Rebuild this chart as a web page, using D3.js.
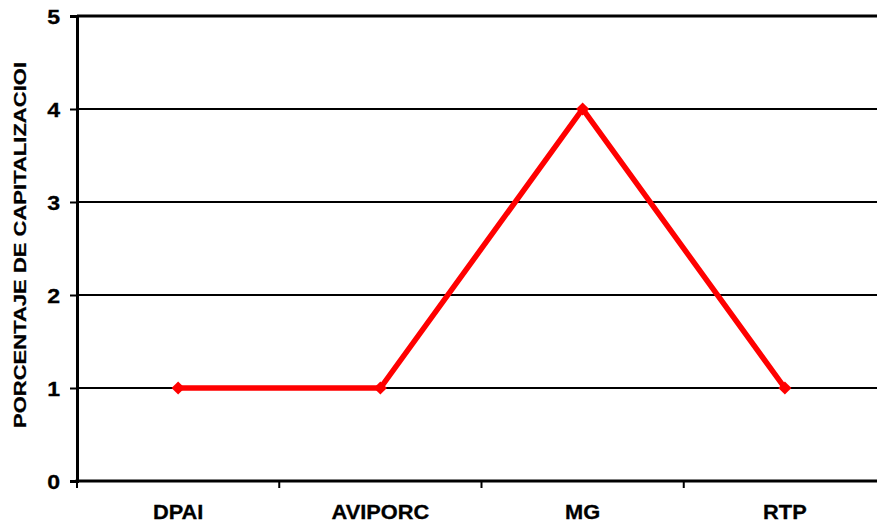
<!DOCTYPE html>
<html>
<head>
<meta charset="utf-8">
<script src="https://cdn.jsdelivr.net/npm/d3@7"></script>
<style>
  html, body { margin: 0; padding: 0; background: #fff; }
  svg { display: block; font-family: "Liberation Sans", Arial, sans-serif; font-weight: bold; }
</style>
</head>
<body>
<svg id="chart" width="877" height="523"></svg>
<script>
const categories = ["DPAI", "AVIPORC", "MG", "RTP"];
const values = [1, 1, 4, 1];
const yTicks = [0, 1, 2, 3, 4, 5];
const yTitle = "PORCENTAJE DE CAPITALIZACIOI";

const svg = d3.select("#chart");
const margin = { left: 77, top: 16, right: 886, bottom: 481 };
const font = "Liberation Sans, Arial, sans-serif";

const x = d3.scaleBand().domain(categories).range([margin.left, margin.right]);
const y = d3.scaleLinear().domain([0, 5]).range([margin.bottom, margin.top]);

// horizontal gridlines
svg.append("g").selectAll("line").data(yTicks.filter(d => d > 0)).join("line")
  .attr("x1", margin.left).attr("x2", margin.right)
  .attr("y1", d => y(d)).attr("y2", d => y(d))
  .attr("stroke", "#000").attr("stroke-width", d => d === 5 ? 3 : 2);

// y axis (labels drawn separately so they can be widened)
const yAxis = svg.append("g").attr("transform", `translate(${margin.left},0)`)
  .call(d3.axisLeft(y).tickValues(yTicks).tickSize(7).tickFormat(""));
yAxis.select(".domain").attr("stroke", "#000").attr("stroke-width", 3);
yAxis.selectAll(".tick line").attr("stroke", "#000").attr("stroke-width", 2);

svg.append("g").selectAll("text").data(yTicks).join("text")
  .attr("transform", d => `translate(60,${y(d) + 7.5}) scale(1.1,1)`)
  .attr("text-anchor", "end")
  .attr("font-family", font).attr("font-weight", "bold")
  .attr("font-size", 21).attr("fill", "#000")
  .attr("stroke", "#000").attr("stroke-width", 0.3)
  .text(d3.format("d"));

// x axis with ticks at category boundaries
const boundaries = categories.map(c => x(c)).concat([margin.right]);
svg.append("line")
  .attr("x1", margin.left - 1.5).attr("x2", margin.right)
  .attr("y1", y(0)).attr("y2", y(0))
  .attr("stroke", "#000").attr("stroke-width", 3);
svg.append("g").selectAll("line").data(boundaries).join("line")
  .attr("x1", d => d).attr("x2", d => d)
  .attr("y1", y(0)).attr("y2", y(0) + 7)
  .attr("stroke", "#000").attr("stroke-width", 2);
svg.append("g").selectAll("text").data(categories).join("text")
  .attr("transform", d => `translate(${x(d) + x.bandwidth() / 2},519) scale(1.09,1)`)
  .attr("text-anchor", "middle")
  .attr("font-family", font).attr("font-weight", "bold")
  .attr("font-size", 20)
  .attr("fill", "#000")
  .attr("stroke", "#000").attr("stroke-width", 0.3)
  .text(d => d);

// y axis title
svg.append("text")
  .attr("transform", `translate(26,245) rotate(-90)`)
  .attr("text-anchor", "middle")
  .attr("font-family", font).attr("font-weight", "bold")
  .attr("font-size", 17)
  .attr("textLength", 366)
  .attr("lengthAdjust", "spacingAndGlyphs")
  .attr("fill", "#000")
  .attr("stroke", "#000").attr("stroke-width", 0.25)
  .text(yTitle);

// series line
const pts = categories.map((c, i) => [x(c) + x.bandwidth() / 2, y(values[i])]);
svg.append("path")
  .attr("d", d3.line()(pts))
  .attr("fill", "none")
  .attr("stroke", "#ff0000")
  .attr("stroke-width", 5.5)
  .attr("stroke-linejoin", "miter");

// diamond markers
svg.append("g").selectAll("path").data(pts).join("path")
  .attr("transform", d => `translate(${d[0]},${d[1]})`)
  .attr("d", d3.symbol().type(d3.symbolDiamond2).size(110))
  .attr("fill", "#ff0000");
</script>
</body>
</html>
